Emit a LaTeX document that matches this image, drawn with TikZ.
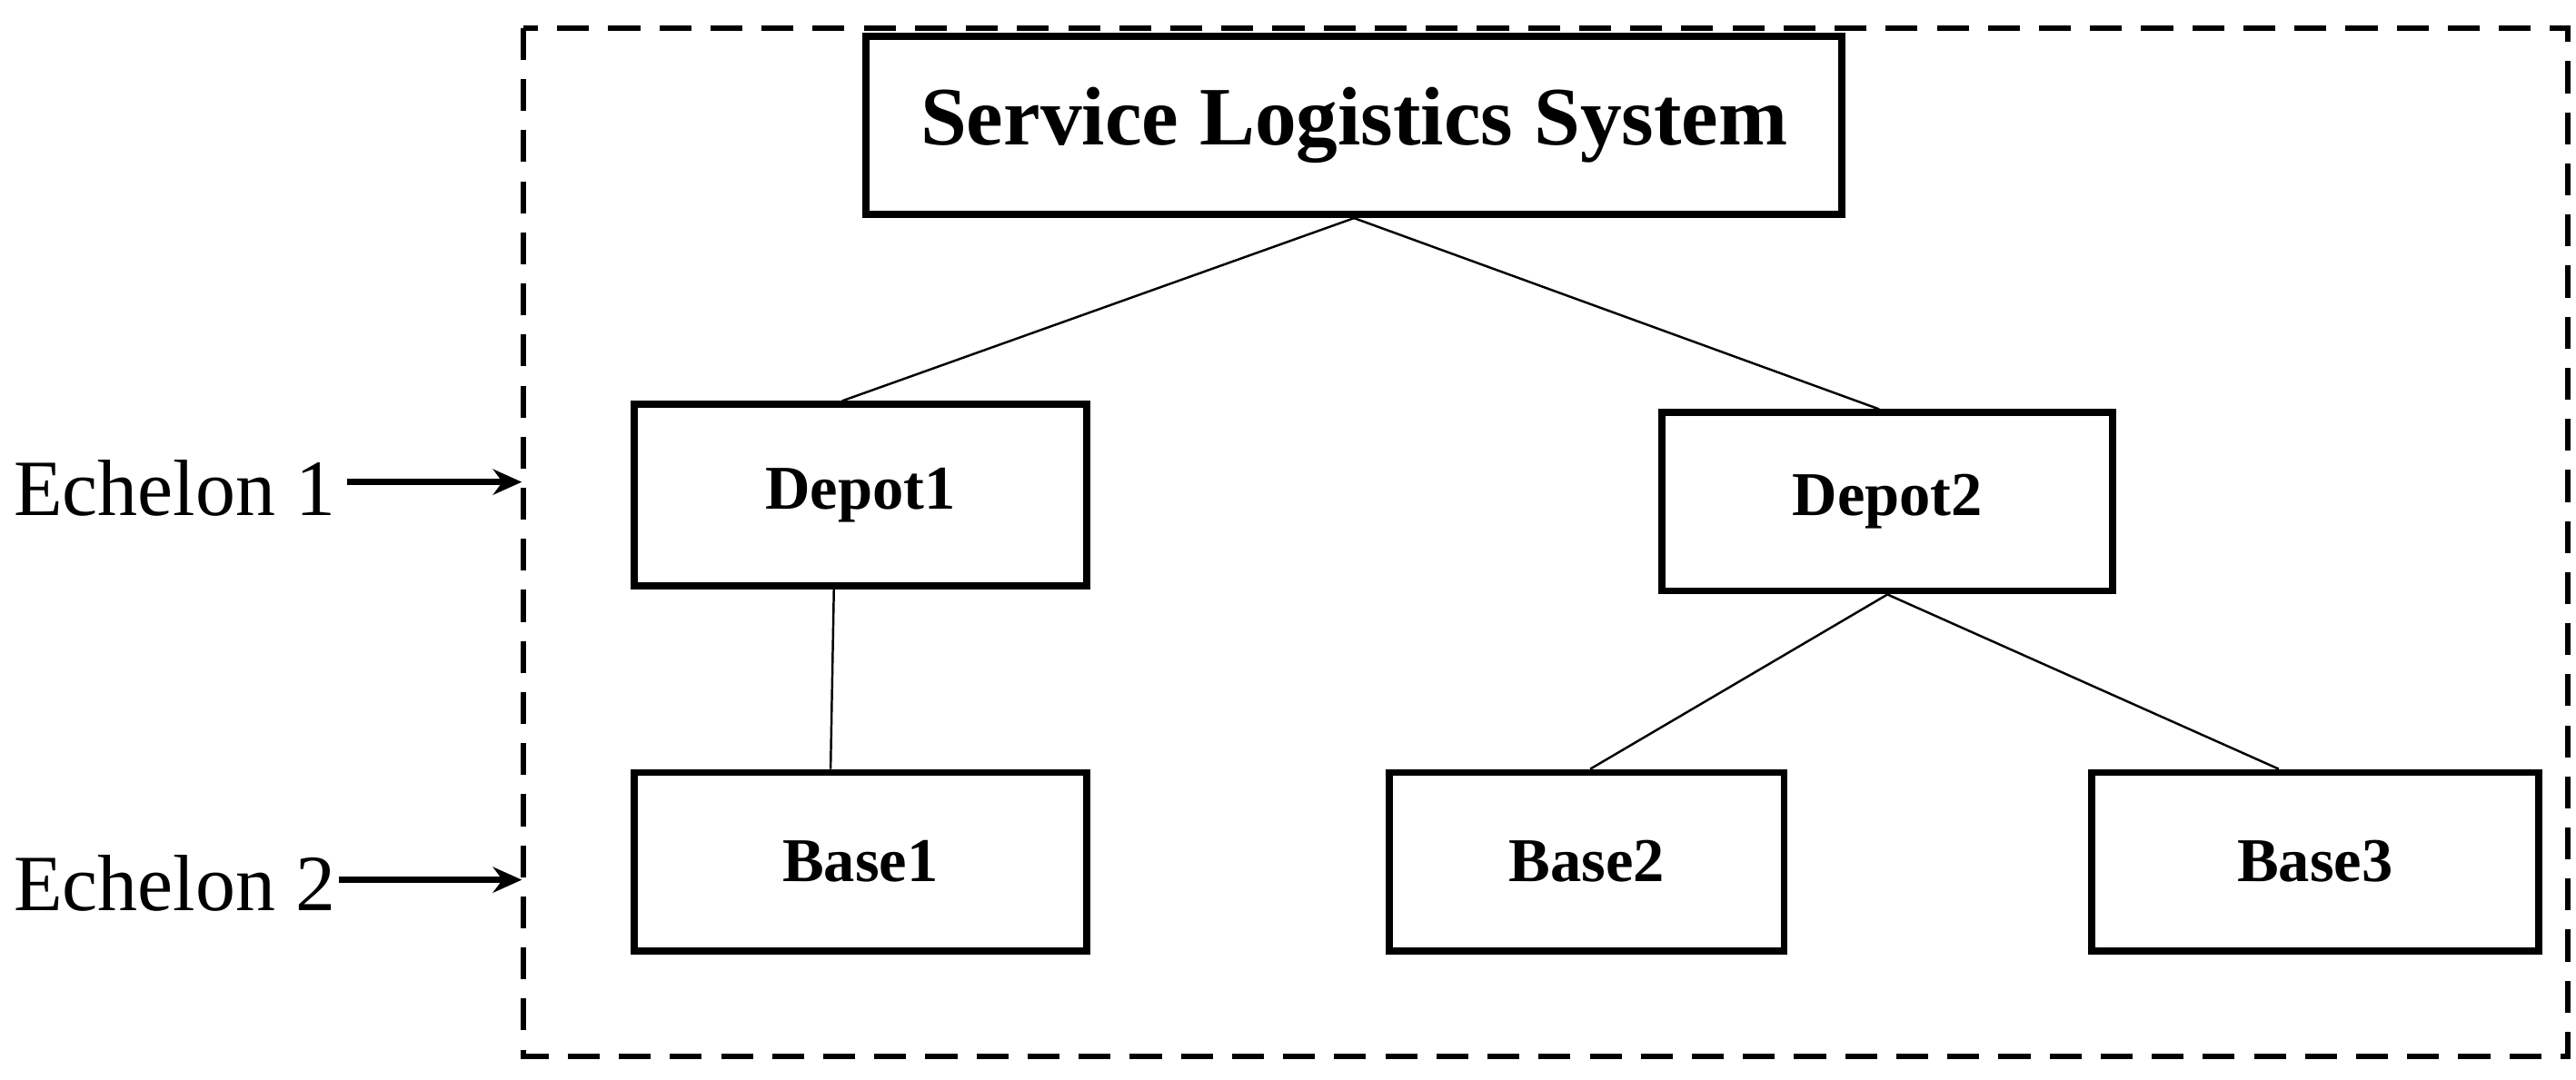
\documentclass[tikz,border=0pt]{standalone}
\usepackage{fontspec}
\setmainfont{Liberation Serif}
\usetikzlibrary{positioning}
\usetikzlibrary{arrows.meta}
\tikzset{>={Stealth[length=9pt,width=8pt]}}
\tikzset{unit/.style={draw,line width=2.2pt,inner sep=0pt,font=\bfseries\fontsize{19.5}{22}\selectfont},
	tier/.style={font=\fontsize{25}{28}\selectfont,inner sep=0pt,anchor=west}}

\begin{document}
\begin{tikzpicture}[x=0.01817cm,y=-0.01817cm]
		\useasboundingbox (0,0) rectangle (1560,654);
		\draw[line width=1.7pt,dash pattern=on 10pt off 6pt] (317,17) rectangle (1555,640);
		\node[unit,minimum width=591*0.01817cm,minimum height=108*0.01817cm,font=\bfseries\fontsize{26}{30}\selectfont] (sls) at (820,76) {Service Logistics System};
		\node[unit,minimum width=274*0.01817cm,minimum height=110*0.01817cm] (d1) at (521,300) {Depot1};
		\node[unit,minimum width=273*0.01817cm,minimum height=108*0.01817cm] (d2) at (1143,304) {Depot2};
		\node[unit,minimum width=274*0.01817cm,minimum height=108*0.01817cm] (b1) at (521,522) {Base1};
		\node[unit,minimum width=239*0.01817cm,minimum height=108*0.01817cm] (b2) at (961,522) {Base2};
		\node[unit,minimum width=271*0.01817cm,minimum height=108*0.01817cm] (b3) at (1402,522) {Base3};
		\node[tier] (e1) at (8,296) {Echelon 1};
		\node[tier] (e2) at (8,535) {Echelon 2};
		\coordinate (s1) at (210,292);
		\coordinate (p1) at (316,292);
		\coordinate (s2) at (205,533);
		\coordinate (p2) at (316,533);
		\begin{scope}[line width=0.7pt]
		  \draw (sls.south) -- ([xshift=-11*0.01817cm]d1.north);
		  \draw (sls.south) -- ([xshift=-5*0.01817cm]d2.north);
		  \draw ([xshift=-16*0.01817cm]d1.south) -- ([xshift=-18*0.01817cm]b1.north);
		  \draw (d2.south) -- ([xshift=2*0.01817cm]b2.north);
		  \draw (d2.south) -- ([xshift=-22*0.01817cm]b3.north);
		\end{scope}
		\draw[->,line width=2pt] (s1) -- (p1);
		\draw[->,line width=2pt] (s2) -- (p2);
	\end{tikzpicture}
\end{document}
